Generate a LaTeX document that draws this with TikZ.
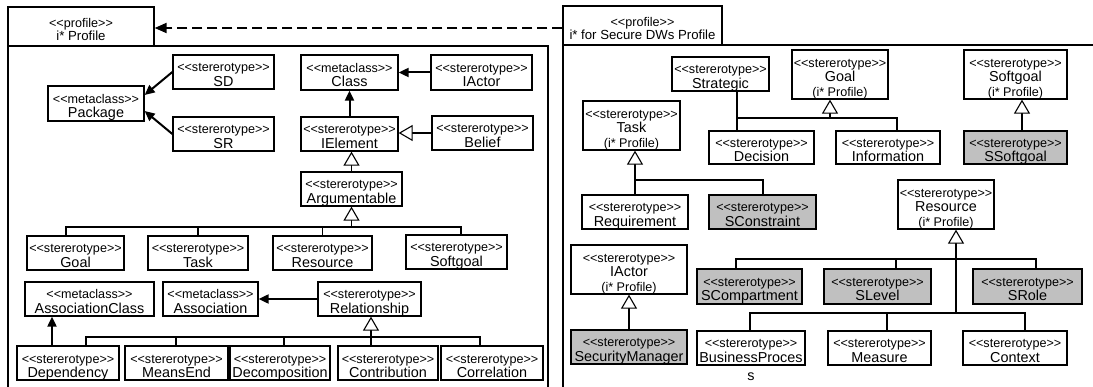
\documentclass[tikz,border=0pt]{standalone}
\usepackage{fontspec}
\newfontfamily\arialf{Liberation Sans}
\usetikzlibrary{arrows.meta}
\definecolor{sgray}{RGB}{192,192,192}
\newcommand\sm{\fontsize{12.6}{14.5}\selectfont}
\newcommand\strt{\rule{0pt}{14.5pt}}
\newcommand\stt{{\sm\strt <<stererotype>>}}
\newcommand\mtc{{\sm\strt <<metaclass>>}}
\newcommand\ipr{{\sm (i* Profile)}}
\newcommand\bx[7][]{\node[box,#1,minimum width={(#5)-(#3)},minimum height={(#6)-(#4)}] (#2) at ({((#3)+(#5))/2},{((#4)+(#6))/2}) {#7};}
\begin{document}
\begin{tikzpicture}[x=1pt,y=-1pt,
  box/.style={draw,line width=1.3pt,fill=white,inner sep=0pt,align=center,text depth=0pt,font=\arialf\fontsize{14.4}{14.5}\selectfont},
  gbox/.style={box,fill=sgray},
  tabbox/.style={box,font=\arialf\fontsize{13.2}{13}\selectfont},
  pk/.style={draw,line width=1.3pt},
  line/.style={draw,line width=1.1pt},
  gen/.style={line,-{Triangle[open,length=14pt,width=16pt,fill=white]}},
  ext/.style={draw,line width=2pt,-{Triangle[length=10pt,width=9pt]}},
  dasharrow/.style={draw,line width=2pt,dash pattern=on 10pt off 5pt,-{Triangle[length=12pt,width=10pt]}}]
\useasboundingbox (0,0) rectangle (1093,387);
\fill[white] (0,0) rectangle (1093,387);
% packages
\draw[pk] (8,46) rectangle (548,400);
\draw[pk] (563,45) rectangle (1100,400);
\bx[tabbox]{ltab}{8}{7}{154}{46}{{\fontsize{12.6}{13}\selectfont\strt <<profile>>}\\i* Profile}
\bx[tabbox]{rtab}{563}{6}{722}{45}{{\fontsize{12.6}{13}\selectfont\strt <<profile>>}\\i* for Secure DWs Profile}
\coordinate (dy) at (0,28);
\draw[dasharrow] (rtab.west |- dy) -- (ltab.east |- dy);
% left package
\bx{Package}{48}{86}{144}{121}{\mtc\\Package}
\bx{SD}{173}{55}{274}{89}{\stt\\SD}
\bx{SR}{173}{117}{274}{151}{\stt\\SR}
\bx{Class}{301}{55}{398}{90}{\mtc\\Class}
\bx{IActorL}{431}{55}{532}{90}{\stt\\IActor}
\bx{IElement}{301}{117}{398}{151}{\stt\\IElement}
\bx{Belief}{432}{116}{533}{150}{\stt\\Belief}
\bx{Argumentable}{301}{172}{402}{206}{\stt\\Argumentable}
\bx{Goal}{27}{236}{124}{270}{\stt\\Goal}
\bx{Task}{148}{236}{248}{270}{\stt\\Task}
\bx{Resource}{273}{236}{372}{270}{\stt\\Resource}
\bx{Softgoal}{406}{235}{507}{269}{\stt\\Softgoal}
\bx{AssocClass}{25}{282}{154}{316}{\mtc\\AssociationClass}
\bx{Association}{163}{282}{258}{316}{\mtc\\Association}
\bx{Relationship}{318}{282}{421}{316}{\stt\\Relationship}
\bx{Dependency}{17}{346}{119}{380}{\stt\\Dependency}
\bx{MeansEnd}{125}{346}{228}{380}{\stt\\MeansEnd}
\bx{Decomposition}{230}{346}{330}{380}{\stt\\Decomposition}
\bx{Contribution}{338}{346}{438}{380}{\stt\\Contribution}
\bx{Correlation}{441}{346}{543}{380}{\stt\\Correlation}
\draw[ext] (SD.west) -- ([yshift=8.5pt]Package.east);
\draw[ext] (SR.west) -- ([yshift=-7.5pt]Package.east);
\draw[ext] (IElement.north) -- (Class.south);
\draw[ext] (IActorL.west) -- (Class.east);
\draw[gen] (Belief.west) -- (IElement.east |- Belief.west);
\draw[gen] (Argumentable.north) -- (IElement.south -| Argumentable.north);
\coordinate (j1) at (Argumentable.south |- 0,227);
\draw[gen] (j1) -- (Argumentable.south);
\draw[line] (Goal.north -| 66,0) -- (66,227) -- (461,227) -- (Softgoal.north -| 461,0);
\draw[line] (Task.north) -- (Task.north |- j1);
\draw[line] (Resource.north) -- (Resource.north |- j1);
\draw[ext] (Relationship.west) -- (Association.east);
\draw[ext] (Dependency.north -| 52,0) -- (AssocClass.south -| 52,0);
\coordinate (j2) at (371,337);
\draw[gen] (j2) -- (Relationship.south -| j2);
\draw[line] (Dependency.north -| 86,0) -- (86,337) -- (480,337) -- (Correlation.north -| 480,0);
\draw[line] (MeansEnd.north -| 176,0) -- (176,337);
\draw[line] (Decomposition.north -| 284,0) -- (284,337);
\draw[line] (Contribution.north -| j2) -- (j2);
% right package
\bx{Strategic}{672}{57}{769}{91}{\stt\\Strategic}
\bx{GoalI}{792}{50}{888}{99}{\stt\\Goal\\\ipr}
\bx{SoftgoalI}{964}{50}{1067}{99}{\stt\\Softgoal\\\ipr}
\bx{TaskI}{583}{101}{680}{150}{\stt\\Task\\\ipr}
\bx{Decision}{709}{131}{814}{164}{\stt\\Decision}
\bx{Information}{836}{131}{940}{164}{\stt\\Information}
\bx[gbox]{SSoftgoal}{964}{131}{1067}{164}{\stt\\SSoftgoal}
\bx{Requirement}{582}{195}{688}{229}{\stt\\Requirement}
\bx[gbox]{SConstraint}{709}{195}{816}{229}{\stt\\SConstraint}
\bx{ResourceI}{898}{180}{994}{229}{\stt\\Resource\\\ipr}
\bx{IActorI}{571}{245}{687}{294}{\stt\\IActor\\\ipr}
\bx[gbox]{SecurityManager}{571}{330}{687}{364}{\stt\\SecurityManager}
\bx[gbox]{SCompartment}{697}{269}{802}{304}{\stt\\SCompartment}
\bx[gbox]{SLevel}{824}{269}{931}{304}{\stt\\SLevel}
\bx[gbox]{SRole}{973}{269}{1082}{304}{\stt\\SRole}
\bx[label={[font=\arialf\fontsize{14.4}{14}\selectfont,inner sep=2pt,label distance=5pt]below:s}]{BusinessProces}{697}{331}{805}{365}{\stt\\BusinessProces}
\bx{Measure}{828}{331}{931}{365}{\stt\\Measure}
\bx{Context}{963}{331}{1067}{365}{\stt\\Context}
\coordinate (j3) at (830,118);
\draw[gen] (j3) -- (GoalI.south -| j3);
\draw[line] (Strategic.south -| 737,0) -- (Decision.north -| 737,0);
\draw[line] (737,118) -- (897,118) -- (Information.north -| 897,0);
\draw[gen] (SSoftgoal.north -| 1022,0) -- (SoftgoalI.south -| 1022,0);
\coordinate (j4) at (635,180);
\draw[gen] (j4) -- (TaskI.south -| j4);
\draw[line] (Requirement.north -| j4) -- (j4) -- (763,180) -- (SConstraint.north -| 763,0);
\draw[gen] (SecurityManager.north -| 629,0) -- (IActorI.south -| 629,0);
\coordinate (j6) at (956,313);
\draw[gen] (j6) -- (ResourceI.south -| j6);
\draw[line] (SCompartment.north -| 736,0) -- (736,259) -- (1036,259) -- (SRole.north -| 1036,0);
\draw[line] (SLevel.north -| 896,0) -- (896,259);
\draw[line] (BusinessProces.north -| 750,0) -- (750,313) -- (1025,313) -- (Context.north -| 1025,0);
\draw[line] (Measure.north -| 887,0) -- (887,313);
\end{tikzpicture}
\end{document}
